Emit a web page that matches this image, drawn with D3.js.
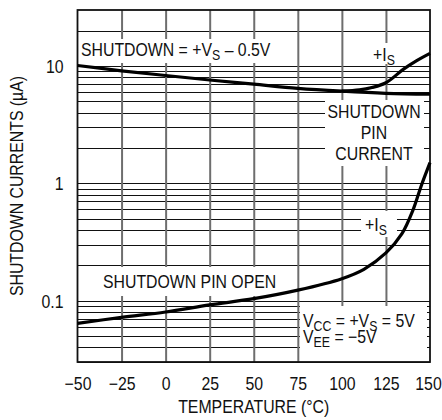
<!DOCTYPE html>
<html>
<head>
<meta charset="utf-8">
<script src="https://cdn.jsdelivr.net/npm/d3@7"></script>
<style>
  html, body { margin: 0; padding: 0; background: #fff; }
  svg text { font-family: "Liberation Sans", Arial, sans-serif; fill: #111; }
</style>
</head>
<body>
<svg id="chart" width="442" height="420"></svg>
<script>
// ---- data ----
const temps = [-50, -25, 0, 25, 50, 75, 100, 125, 150];
const pinCurrent = [10.1, 9.1, 8.3, 7.6, 7.0, 6.45, 6.1, 5.85, 5.75];
const upperIsTemps = [100, 110, 117, 125, 135, 142, 150];
const upperIs = [6.1, 6.25, 6.55, 7.2, 9.4, 11.0, 12.8];
const lowerIsTemps = [-50, -25, 0, 25, 50, 75, 100, 112.5, 125, 134, 140.5, 145, 150];
const lowerIs = [0.064, 0.072, 0.080, 0.092, 0.104, 0.123, 0.154, 0.185, 0.255, 0.37, 0.6, 0.95, 1.5];
const xTicks = [-50, -25, 0, 25, 50, 75, 100, 125, 150];
const yTicks = [0.1, 1, 10];
const yGrid = [0.03,0.04,0.05,0.06,0.07,0.08,0.09,0.1,0.2,0.3,0.4,0.5,0.6,0.7,0.8,0.9,1,2,3,4,5,6,7,8,9,10,20];

// ---- layout ----
const L = 77.5, R = 430, T = 10, B = 362;
const SX = 0.88; // horizontal condensing of text
const fs = 18;
const svg = d3.select("#chart");
const x = d3.scaleLinear().domain([-50, 150]).range([L, R]);
const y = d3.scaleLog().domain([0.03, 30]).range([B, T]);

// horizontal grid
const gh = svg.append("g").attr("class", "hgrid");
yGrid.forEach(v => {
  const yy = Math.round(y(v)) + 0.5;
  gh.append("line").attr("x1", L).attr("x2", R).attr("y1", yy).attr("y2", yy)
    .attr("stroke", "#111").attr("stroke-width", 1);
});
// vertical grid via axis
const gv = svg.append("g").attr("class", "vgrid").attr("transform", `translate(0,${B})`)
  .call(d3.axisBottom(x).tickValues(xTicks.slice(1, -1)).tickSize(-(B - T)).tickFormat(() => ""));
gv.select(".domain").remove();
gv.selectAll(".tick line").attr("stroke", "#6e6e6e").attr("stroke-width", 2);

// white label boxes (interrupt grid)
function box(x0, y0, x1, y1) {
  svg.append("rect").attr("x", x0).attr("y", y0).attr("width", x1 - x0).attr("height", y1 - y0).attr("fill", "#fff");
}
box(L + 1, 39, 291, 63);
box(368, 43, 405, 64);
box(325, 100, 424, 166);
box(361, 211, 397, 237);
box(97, 267, 280, 296);
box(300, 306, 427, B);

// frame
svg.append("rect").attr("x", L).attr("y", T).attr("width", R - L).attr("height", B - T)
  .attr("fill", "none").attr("stroke", "#111").attr("stroke-width", 1.8);

// curves
const line = d3.line().x(d => x(d[0])).y(d => y(d[1])).curve(d3.curveCatmullRom.alpha(0.5));
function curve(ts, vs) {
  svg.append("path").datum(ts.map((t, i) => [t, vs[i]]))
    .attr("d", line).attr("fill", "none").attr("stroke", "#000")
    .attr("stroke-width", 3.2).attr("stroke-linecap", "butt");
}
curve(temps, pinCurrent);
curve(upperIsTemps, upperIs);
curve(lowerIsTemps, lowerIs);

// axes (labels only)
const xAxis = svg.append("g").attr("transform", `translate(0,${B})`)
  .call(d3.axisBottom(x).tickValues(xTicks).tickSize(0).tickPadding(0)
    .tickFormat(d => d < 0 ? "\u2212" + Math.abs(d) : String(d)));
xAxis.select(".domain").remove();
xAxis.attr("font-family", null).attr("font-size", null);
xAxis.selectAll("text").attr("dy", null).attr("y", 28).attr("font-size", fs)
  .attr("x", d => d === 150 ? -2 / SX : 0)
  .attr("transform", `scale(${SX},1)`);

const yAxis = svg.append("g").attr("transform", `translate(${L},0)`)
  .call(d3.axisLeft(y).tickValues(yTicks).tickSize(0).tickPadding(0)
    .tickFormat(d => String(d)));
yAxis.select(".domain").remove();
yAxis.attr("font-family", null).attr("font-size", null);
yAxis.selectAll("text").attr("x", -14 / SX).attr("dy", "0.36em").attr("font-size", fs)
  .attr("transform", `scale(${SX},1)`);

// text helper: parts = [[text, isSub], ...]
function label(xp, yp, parts, anchor, rot) {
  const gg = svg.append("g").attr("transform", `translate(${xp},${yp})${rot ? " rotate(" + rot + ")" : ""} scale(${SX},1)`);
  const t = gg.append("text").attr("x", 0).attr("y", 0).attr("font-size", fs)
    .attr("text-anchor", anchor || "start");
  let wasSub = false;
  parts.forEach(([s, sub]) => {
    if (sub) {
      t.append("tspan").attr("font-size", 14).attr("dy", 4).text(s);
      wasSub = true;
    } else {
      t.append("tspan").attr("dy", wasSub ? -4 : 0).text(s);
      wasSub = false;
    }
  });
  return t;
}

// axis titles
label((L + R) / 2, 413, [["TEMPERATURE (\u00B0C)"]], "middle");
label(23, (T + B) / 2, [["SHUTDOWN CURRENTS (\u00B5A)"]], "middle", -90);

// annotations
label(81, 56, [["SHUTDOWN = +V"], ["S", true], [" \u2013 0.5V"]]);
label(373, 61, [["+I"], ["S", true]]);
label(374, 118, [["SHUTDOWN"]], "middle");
label(374, 139, [["PIN"]], "middle");
label(374, 160, [["CURRENT"]], "middle");
label(365, 231, [["+I"], ["S", true]]);
label(103, 288, [["SHUTDOWN PIN OPEN"]]);
label(303, 327, [["V"], ["CC", true], [" = +V"], ["S", true], [" = 5V"]]);
label(303, 343, [["V"], ["EE", true], [" = \u22125V"]]);
</script>
</body>
</html>
